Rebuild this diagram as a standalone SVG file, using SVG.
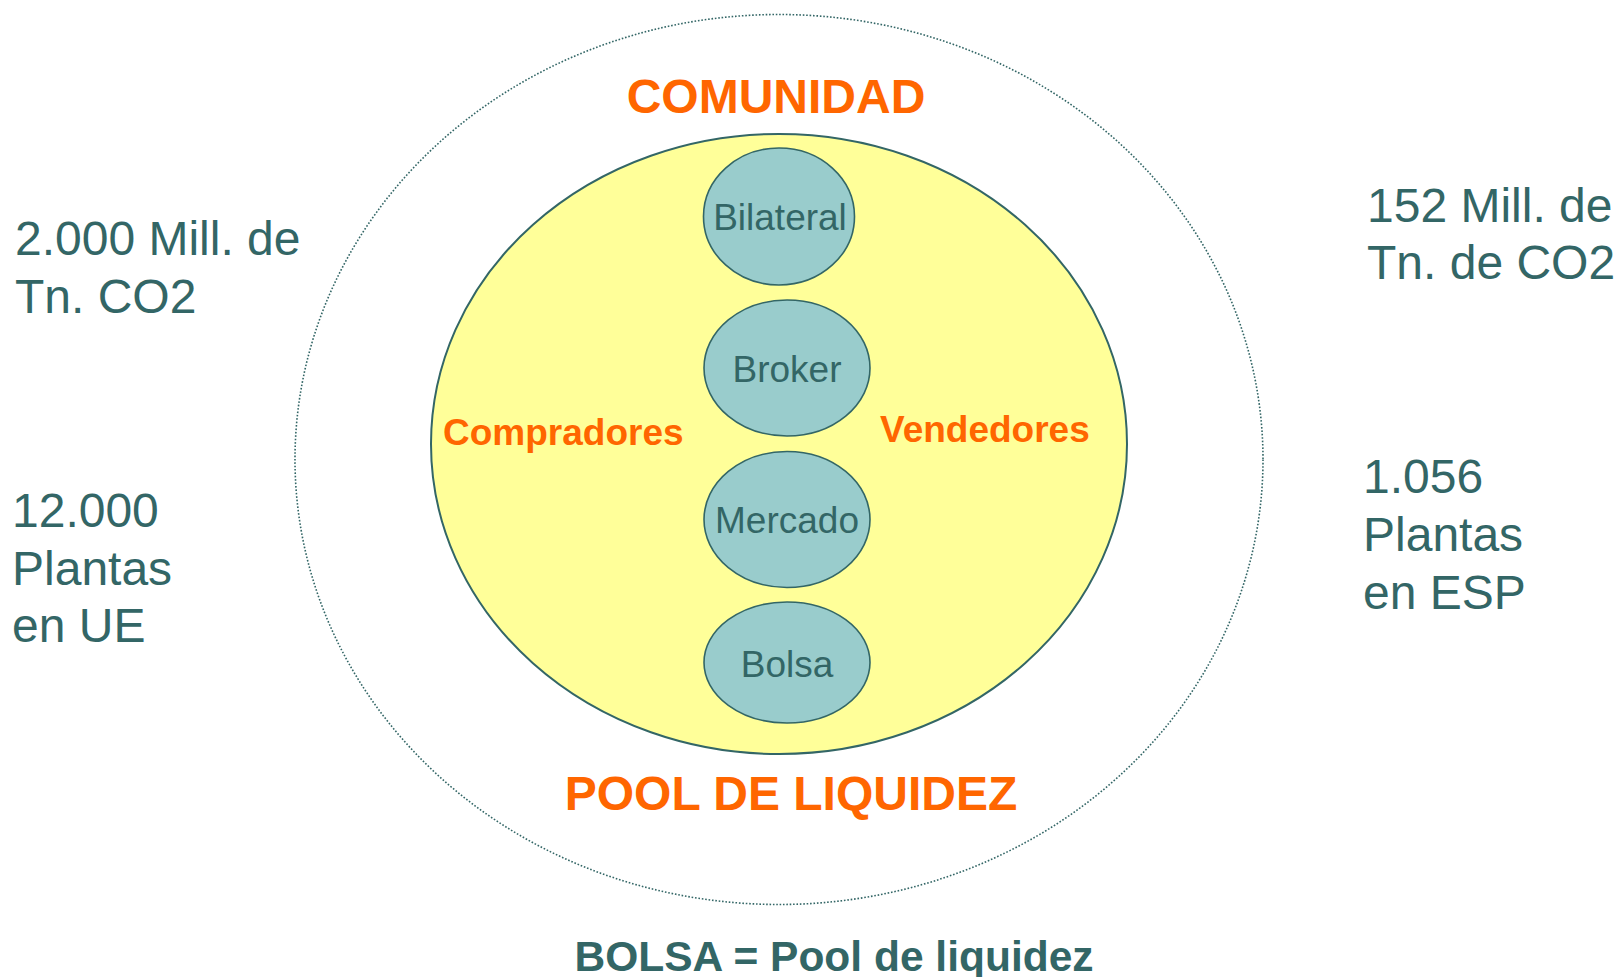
<svg xmlns="http://www.w3.org/2000/svg" width="1620" height="977" viewBox="0 0 1620 977">
<style>
.t{font-family:"Liberation Sans",Arial,sans-serif;fill:#336666}
.big{font-size:48px}
.o{font-family:"Liberation Sans",Arial,sans-serif;fill:#FF6600;font-weight:bold}
.node{fill:#99CCCC;stroke:#336666;stroke-width:1.6}
.nt{font-family:"Liberation Sans",Arial,sans-serif;fill:#336666;font-size:37px;text-anchor:middle}
</style>
<rect width="1620" height="977" fill="#FFFFFF"/>
<g id="outer">
<ellipse cx="779" cy="459.5" rx="484" ry="445" fill="none" stroke="#336666" stroke-width="1.6" stroke-dasharray="1.6 1.8"/>
</g>
<g id="pool">
<ellipse cx="779" cy="444" rx="348" ry="310" fill="#FFFF99" stroke="#336666" stroke-width="2"/>
</g>
<g id="connectors"></g>
<g id="bilateral">
<ellipse class="node" cx="779" cy="216.5" rx="75.5" ry="68.5"/>
<text class="nt" x="780" y="230">Bilateral</text>
</g>
<g id="broker">
<ellipse class="node" cx="787" cy="368" rx="83" ry="68"/>
<text class="nt" x="787" y="382">Broker</text>
</g>
<g id="mercado">
<ellipse class="node" cx="787" cy="519.5" rx="83" ry="68"/>
<text class="nt" x="787" y="533">Mercado</text>
</g>
<g id="bolsa">
<ellipse class="node" cx="787" cy="662.5" rx="83" ry="60.5"/>
<text class="nt" x="787" y="677">Bolsa</text>
</g>
<g id="labels">
<text class="o" x="776" y="113" font-size="48" text-anchor="middle">COMUNIDAD</text>
<text class="o" x="791" y="810" font-size="48" text-anchor="middle">POOL DE LIQUIDEZ</text>
<text class="o" x="443" y="445" font-size="37">Compradores</text>
<text class="o" x="880" y="442" font-size="37">Vendedores</text>
<text class="t" x="834" y="971" font-size="42.5" font-weight="bold" text-anchor="middle">BOLSA = Pool de liquidez</text>
</g>
<g id="left-stats">
<text class="t big" x="15" y="255">2.000 Mill. de</text>
<text class="t big" x="15" y="313">Tn. CO2</text>
<text class="t big" x="12" y="527">12.000</text>
<text class="t big" x="12" y="585">Plantas</text>
<text class="t big" x="12" y="642">en UE</text>
</g>
<g id="right-stats">
<text class="t big" x="1367" y="222">152 Mill. de</text>
<text class="t big" x="1367" y="279">Tn. de CO2</text>
<text class="t big" x="1363" y="493">1.056</text>
<text class="t big" x="1363" y="551">Plantas</text>
<text class="t big" x="1363" y="609">en ESP</text>
</g>
</svg>
